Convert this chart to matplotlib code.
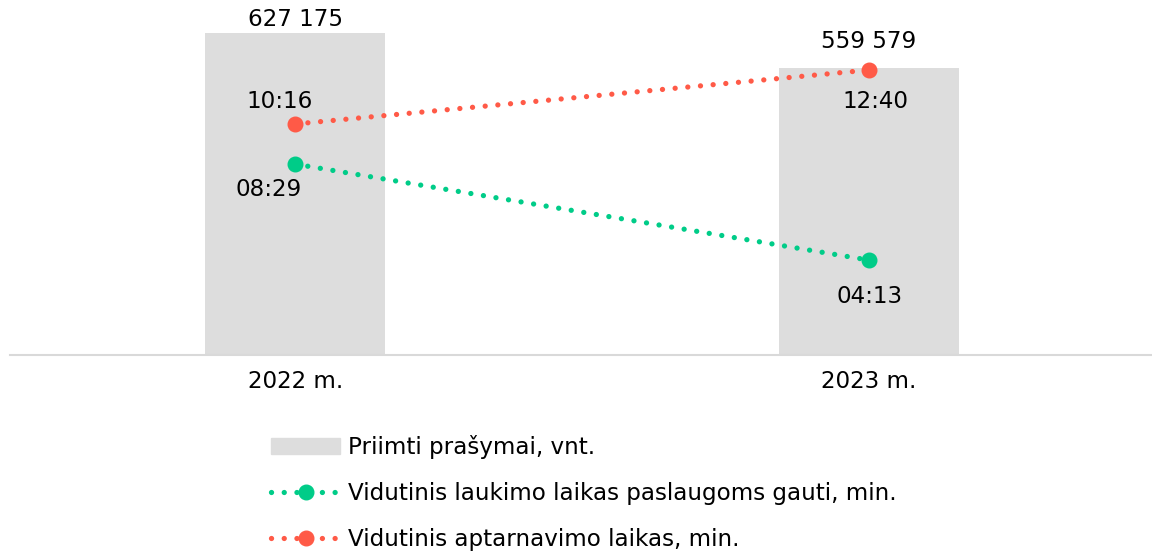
import matplotlib.pyplot as plt
from matplotlib.lines import Line2D
from matplotlib.patches import Patch

plt.rcParams['font.family'] = ['DejaVu Sans']

# data
years = ["2022 m.", "2023 m."]
requests = [627175, 559579]
wait_time = ["08:29", "04:13"]      # Vidutinis laukimo laikas (min:s)
service_time = ["10:16", "12:40"]   # Vidutinis aptarnavimo laikas (min:s)


def to_sec(s):
    m, sec = s.split(":")
    return int(m) * 60 + int(sec)


wait_sec = [to_sec(t) for t in wait_time]
serv_sec = [to_sec(t) for t in service_time]

grey = "#DDDDDD"
green = "#00CC88"
red = "#FF5A47"
fs = 16.6

fig = plt.figure(figsize=(11.52, 5.58), dpi=100)
ax = fig.add_axes([10 / 1152, (558 - 355) / 558, 1 - 10 / 1152, 350 / 558])
ax2 = ax.twinx()

x = [0, 1]
ax.bar(x, requests, width=0.314, color=grey, zorder=1)
ax.set_xlim(-0.497, 1.493)
ax.set_ylim(0, 627175 * 350 / 322)
ax2.set_ylim(0, 350 / 0.375)

dot = (0, (0.01, 2.4))
ax2.plot(x, wait_sec, color=green, lw=3.8, ls=dot, dash_capstyle='round',
         marker='o', ms=10.5, zorder=3)
ax2.plot(x, serv_sec, color=red, lw=3.8, ls=dot, dash_capstyle='round',
         marker='o', ms=10.5, zorder=3)

for a in (ax, ax2):
    for s in a.spines.values():
        s.set_visible(False)
    a.set_yticks([])
ax.spines['bottom'].set_visible(True)
ax.spines['bottom'].set_color("#D9D9D9")
ax.spines['bottom'].set_linewidth(1.5)
ax.set_xticks(x)
ax.set_xticklabels(years, fontsize=fs)
ax.tick_params(axis='x', length=0, pad=11)

# value labels (offsets in pixels)
bar_off = [(0, 13), (0, 26)]
for i, v in enumerate(requests):
    ax.annotate(f"{v:,}".replace(",", " "), (x[i], v), xytext=bar_off[i],
                textcoords='offset pixels', ha='center', va='center', fontsize=fs)
serv_off = [(-16, 22), (6, -32)]
for i, v in enumerate(serv_sec):
    ax2.annotate(service_time[i], (x[i], v), xytext=serv_off[i],
                 textcoords='offset pixels', ha='center', va='center', fontsize=fs)
wait_off = [(-27, -25), (0, -36)]
for i, v in enumerate(wait_sec):
    ax2.annotate(wait_time[i], (x[i], v), xytext=wait_off[i],
                 textcoords='offset pixels', ha='center', va='center', fontsize=fs)

handles = [
    Patch(color=grey),
    Line2D([], [], color=green, lw=3.8, ls=dot, dash_capstyle='round', marker='o', ms=10.5),
    Line2D([], [], color=red, lw=3.8, ls=dot, dash_capstyle='round', marker='o', ms=10.5),
]
labels = ["Priimti prašymai, vnt.",
          "Vidutinis laukimo laikas paslaugoms gauti, min.",
          "Vidutinis aptarnavimo laikas, min."]
fig.legend(handles, labels, loc='upper left', bbox_to_anchor=(271 / 1152, 1 - 435 / 558),
           frameon=False, fontsize=fs, handlelength=3.0, handleheight=0.65,
           handletextpad=0.35, labelspacing=1.0, numpoints=1, borderpad=0,
           borderaxespad=0)

fig.savefig("out.png", dpi=100)
